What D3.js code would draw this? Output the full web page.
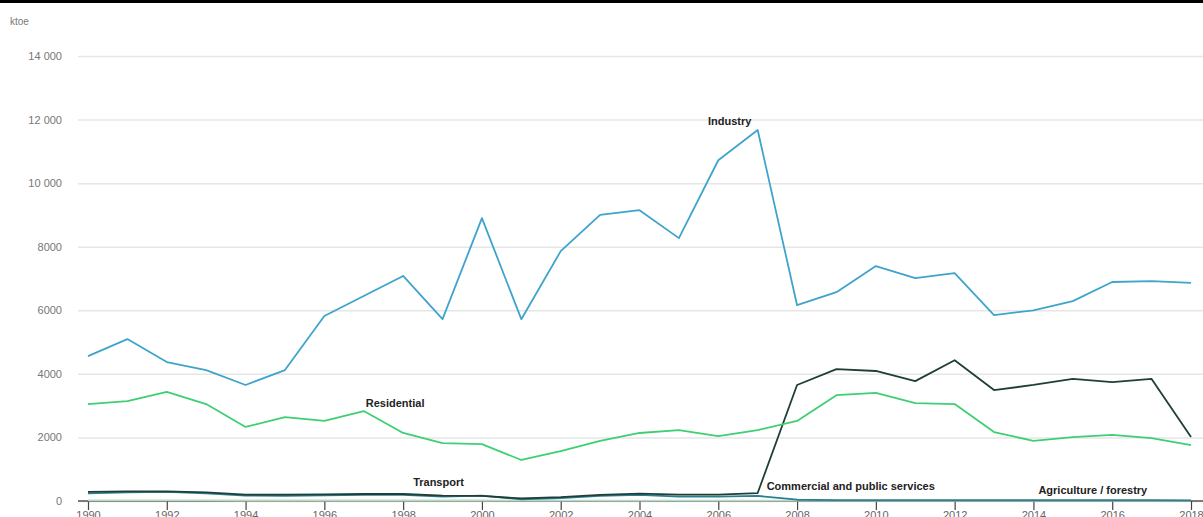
<!DOCTYPE html>
<html>
<head>
<meta charset="utf-8">
<script src="https://cdn.jsdelivr.net/npm/d3@7"></script>
<style>
  html, body { margin: 0; padding: 0; background: #fff; overflow: hidden; }
  svg { display: block; font-family: "Liberation Sans", Arial, sans-serif; }
</style>
</head>
<body>
<svg id="chart" width="1203" height="517"></svg>
<script>
// Final energy consumption by sector, ktoe
const years = d3.range(1990, 2019);

const industry = [4560, 5095, 4370, 4120, 3650, 4120, 5820, 6450, 7080, 5720,
  8900, 5720, 7860, 9000, 9150, 8270, 10720, 11670, 6160, 6570,
  7390, 7010, 7170, 5850, 6000, 6290, 6890, 6920, 6860];

const residential = [3050, 3145, 3430, 3050, 2330, 2640, 2520, 2830, 2140, 1820,
  1790, 1290, 1570, 1890, 2140, 2230, 2040, 2230, 2520, 3330,
  3400, 3080, 3050, 2170, 1890, 2010, 2080, 1980, 1760];

const commercial = [290, 300, 300, 270, 200, 200, 210, 220, 220, 170,
  160, 80, 120, 190, 230, 200, 200, 250, 3650, 4150,
  4090, 3770, 4430, 3490, 3650, 3840, 3740, 3840, 2010];

const transport = [240, 270, 290, 240, 170, 160, 180, 190, 190, 140,
  170, 50, 90, 160, 190, 140, 140, 160, 40, 30,
  30, 30, 30, 25, 25, 25, 25, 25, 20];

const agriculture = [20, 20, 20, 20, 15, 15, 15, 15, 15, 15,
  15, 10, 10, 10, 10, 10, 10, 10, 10, 10,
  10, 10, 10, 10, 10, 10, 10, 10, 10];

const yTicks = [0, 2000, 4000, 6000, 8000, 10000, 12000, 14000];
const yTickLabels = ["0", "2000", "4000", "6000", "8000", "10 000", "12 000", "14 000"];
const xTicks = d3.range(1990, 2019, 2);

const seriesNames = ["Agriculture / forestry", "Transport", "Commercial and public services", "Residential", "Industry"];
const seriesValues = [agriculture, transport, commercial, residential, industry];
const seriesColors = ["#b9d9c4", "#2b7f93", "#1f3f36", "#3fcf73", "#3fa4cb"];

const svg = d3.select("#chart");
const W = 1203;

const x = d3.scaleLinear().domain([1990, 2018]).range([88, 1191]);
const y = d3.scaleLinear().domain([0, 14000]).range([501, 56]);

// top rule
svg.append("rect").attr("x", 0).attr("y", 0).attr("width", W).attr("height", 3).attr("fill", "#000");

// unit label
svg.append("text").attr("x", 10).attr("y", 25)
  .attr("font-size", 10).attr("fill", "#777").text("ktoe");

// horizontal grid + y labels
const yAxis = d3.axisLeft(y)
  .tickValues(yTicks)
  .tickSize(-(W - 78))
  .tickFormat((d, i) => yTickLabels[i]);
const gy = svg.append("g").attr("transform", "translate(78,0)").call(yAxis);
gy.select(".domain").remove();
gy.selectAll(".tick line").attr("stroke", "#e6e6e6").attr("stroke-width", 1.5);
gy.selectAll(".tick text").attr("x", -16).attr("fill", "#777")
  .attr("font-size", 11).attr("font-family", "Liberation Sans, Arial, sans-serif");

// x axis
const xAxis = d3.axisBottom(x)
  .tickValues(xTicks)
  .tickSize(9)
  .tickSizeOuter(0)
  .tickFormat(d3.format("d"));
const gx = svg.append("g").attr("transform", "translate(0,501)").call(xAxis);
gx.select(".domain").attr("d", `M78,0H${W}`).attr("stroke", "#555").attr("stroke-width", 1.5);
gx.selectAll(".tick line").attr("stroke", "#444").attr("stroke-width", 1.2);
gx.selectAll(".tick text").attr("y", 10).attr("fill", "#666")
  .attr("font-size", 11).attr("font-family", "Liberation Sans, Arial, sans-serif");

// lines
const line = d3.line().x((d, i) => x(years[i])).y(d => y(d));
svg.append("g").selectAll("path")
  .data(seriesValues)
  .join("path")
  .attr("d", d => line(d))
  .attr("fill", "none")
  .attr("stroke", (d, i) => seriesColors[i])
  .attr("stroke-width", 1.8)
  .attr("stroke-linejoin", "round");

// series labels
const labels = [
  { name: "Industry", lx: x(2007) - 28, ly: y(industry[17]) - 5, anchor: "middle" },
  { name: "Residential", lx: x(1997) + 2, ly: y(residential[7]) - 4, anchor: "start" },
  { name: "Transport", lx: x(1998) + 10, ly: y(0) - 15, anchor: "start" },
  { name: "Commercial and public services", lx: x(2007) + 9, ly: y(0) - 11, anchor: "start" },
  { name: "Agriculture / forestry", lx: x(2014) + 5, ly: y(0) - 7, anchor: "start" }
];
svg.append("g").selectAll("text")
  .data(labels)
  .join("text")
  .attr("x", d => d.lx)
  .attr("y", d => d.ly)
  .attr("text-anchor", d => d.anchor)
  .attr("font-size", 11)
  .attr("font-weight", "bold")
  .attr("fill", "#222")
  .text(d => d.name);
</script>
</body>
</html>
